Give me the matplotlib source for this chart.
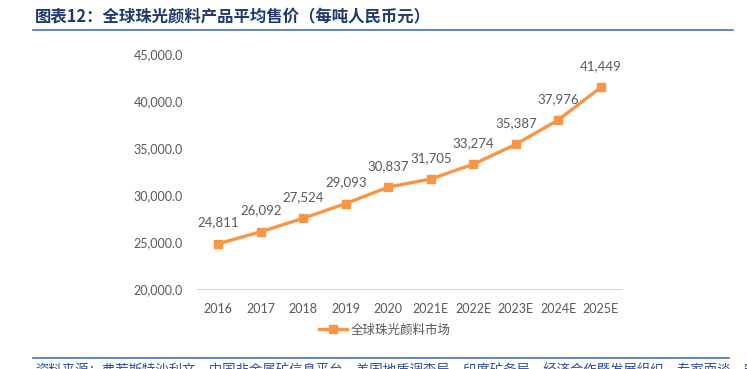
import matplotlib.pyplot as plt
from matplotlib.lines import Line2D

plt.rcParams['font.family'] = ['Lato', 'Noto Sans CJK SC', 'DejaVu Sans']

years = ['2016', '2017', '2018', '2019', '2020', '2021E', '2022E', '2023E', '2024E', '2025E']
prices = [24811, 26092, 27524, 29093, 30837, 31705, 33274, 35387, 37976, 41449]
yticks = [20000, 25000, 30000, 35000, 40000, 45000]

orange = '#F79646'
gray = '#595959'

fig = plt.figure(figsize=(7.47, 3.69), dpi=100)
ax = fig.add_axes([197 / 747, 1 - 289 / 369, 425 / 747, 235 / 369])

x = list(range(len(years)))
ax.plot(x, prices, color=orange, lw=2.4, marker='s', ms=5.5, zorder=3)
for xi, v in zip(x, prices):
    ax.annotate(f'{v:,}', (xi, v), xytext=(0, 11), textcoords='offset points',
                ha='center', va='bottom', fontsize=9.5, color=gray)

ax.set_xlim(-0.5, len(years) - 0.5)
ax.set_ylim(20000, 45000)
ax.set_yticks(yticks)
ax.set_yticklabels([f'{t:,.1f}' for t in yticks])
ax.set_xticks(x)
ax.set_xticklabels(years)
ax.tick_params(length=0, labelsize=9, labelcolor=gray)
ax.tick_params(axis='y', pad=10)
ax.tick_params(axis='x', pad=10)
for s in ['top', 'right', 'left']:
    ax.spines[s].set_visible(False)
ax.spines['bottom'].set_color('#D9D9D9')

handle = Line2D([], [], color=orange, lw=2.4, marker='s', ms=5.5)
fig.legend([handle], ['全球珠光颜料市场'], loc='center', bbox_to_anchor=(385 / 747, 1 - 330 / 369),
           frameon=False, prop={'family': 'Noto Sans CJK SC', 'size': 9}, labelcolor=gray,
           handlelength=2.2, handletextpad=0.3)

# title and rules
fig.text(35 / 747, 1 - 17 / 369, '图表12：全球珠光颜料产品平均售价（每吨人民币元）',
         family=['Noto Sans CJK SC'], fontweight='bold', fontsize=11.8, color='#1F3A6E',
         ha='left', va='center')
fig.add_artist(Line2D([33 / 747, 733 / 747], [1 - 30 / 369] * 2, color='#4472C4', lw=1.2))
fig.add_artist(Line2D([33 / 747, 729 / 747], [1 - 358 / 369] * 2, color='#4472C4', lw=1.2))
fig.text(35 / 747, 1 - 363 / 369,
         '资料来源：弗若斯特沙利文，中国非金属矿信息平台，美国地质调查局，印度矿务局，经济合作暨发展组织，专家面谈，安信证券研究中心',
         family=['Noto Sans CJK SC'], fontsize=9.6, color='#2F4FA0', style='italic',
         ha='left', va='top')

fig.savefig('out.png', dpi=100)
